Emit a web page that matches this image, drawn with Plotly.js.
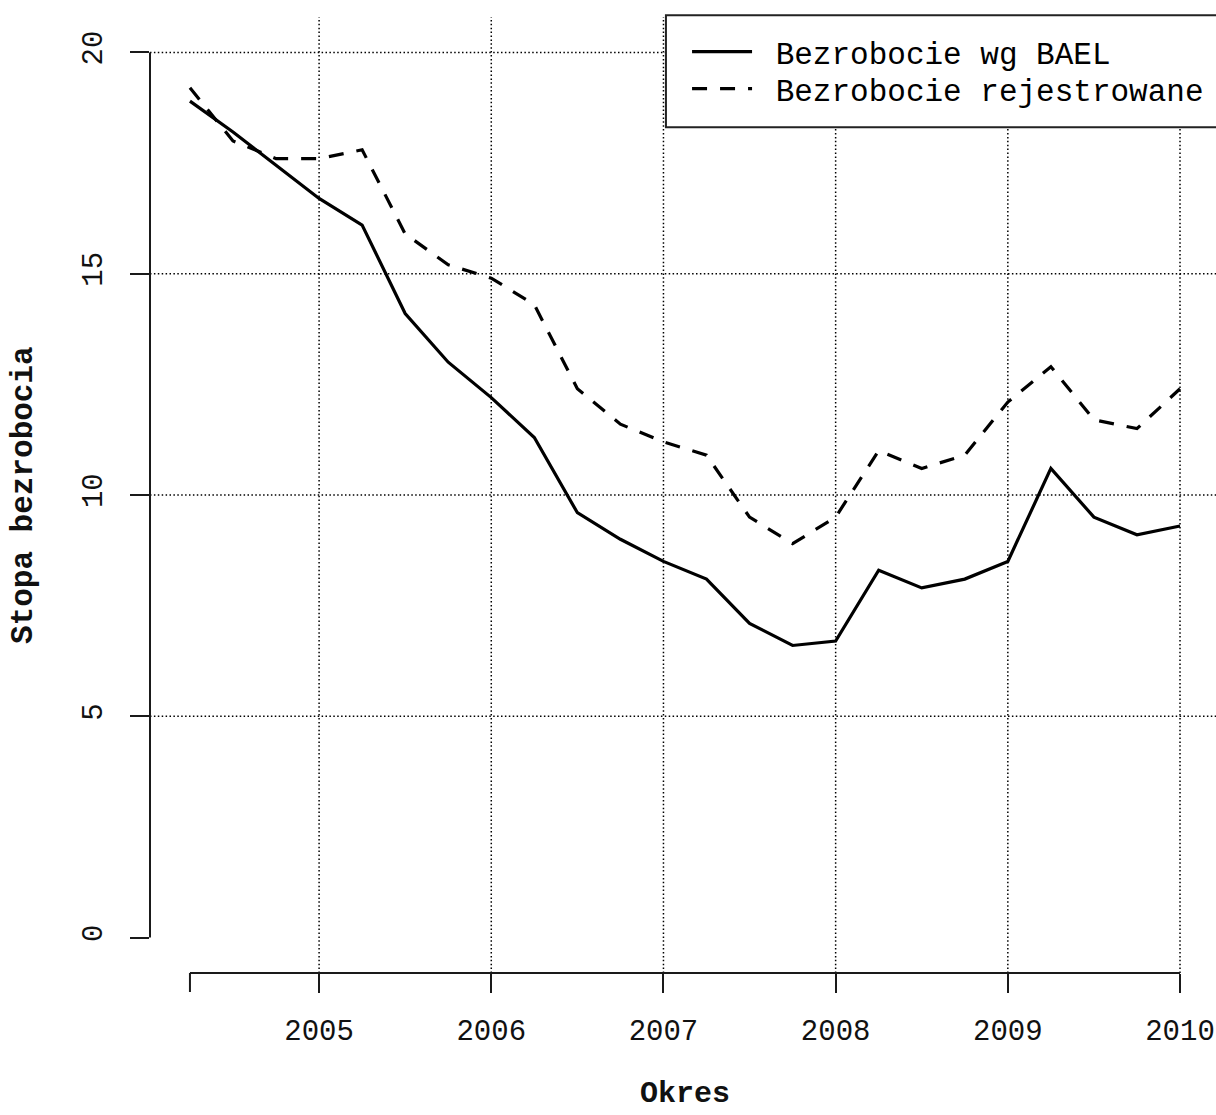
<!DOCTYPE html>
<html>
<head>
<meta charset="utf-8">
<script src="https://cdn.plot.ly/plotly-3.0.1.min.js"></script>
<style>
  html, body { margin: 0; padding: 0; background: #fff; }
  #chart { width: 1216px; height: 1115px; }
</style>
</head>
<body>
<div id="chart"></div>
<script>
// Quarterly observations, Q2 2004 – Q1 2010 (decimal year)
const quarters = [
  2004.25, 2004.50, 2004.75,
  2005.00, 2005.25, 2005.50, 2005.75,
  2006.00, 2006.25, 2006.50, 2006.75,
  2007.00, 2007.25, 2007.50, 2007.75,
  2008.00, 2008.25, 2008.50, 2008.75,
  2009.00, 2009.25, 2009.50, 2009.75,
  2010.00
];

// Unemployment rate by the labour force survey (BAEL), %
const baelRate = [
  18.9, 18.2, 17.45,
  16.7, 16.1, 14.1, 13.0,
  12.2, 11.3, 9.6, 9.0,
  8.5, 8.1, 7.1, 6.6,
  6.7, 8.3, 7.9, 8.1,
  8.5, 10.6, 9.5, 9.1,
  9.3
];

// Registered unemployment rate, %
const registeredRate = [
  19.2, 18.0, 17.6,
  17.6, 17.8, 15.9, 15.2,
  14.9, 14.3, 12.4, 11.6,
  11.2, 10.9, 9.5, 8.9,
  9.5, 11.0, 10.6, 10.9,
  12.1, 12.9, 11.7, 11.5,
  12.4
];

const seriesNames = ['Bezrobocie wg BAEL', 'Bezrobocie rejestrowane'];
const xTitle = 'Okres';
const yTitle = 'Stopa bezrobocia';

const yearTicks = [2005, 2006, 2007, 2008, 2009, 2010];
const yearLabels = ['2005', '2006', '2007', '2008', '2009', '2010'];
const rateTicks = [0, 5, 10, 15, 20];
const rateLabels = ['0', '5', '10', '15', '20'];
const rateGrid = [5, 10, 15, 20];

const mono = '"Courier New", "Liberation Mono", monospace';
const ink = '#1a1a1a';
const nbsp = '\u00A0';

const traces = [
  {
    x: quarters, y: baelRate, name: nbsp + seriesNames[0], legend: 'legend',
    type: 'scatter', mode: 'lines',
    line: { color: '#000', width: 3.2 }
  },
  {
    x: quarters, y: registeredRate, name: nbsp + seriesNames[1], legend: 'legend2',
    type: 'scatter', mode: 'lines',
    line: { color: '#000', width: 3.2, dash: '15px,13px' }
  }
];

// Dotted reference grid
const grid = { color: '#000', width: 1.5, dash: '1.5px,2.4px' };
const shapes = [];
yearTicks.forEach(v => shapes.push({
  type: 'line', layer: 'below', xref: 'x', yref: 'paper',
  x0: v, x1: v, y0: 0, y1: 1, line: grid
}));
rateGrid.forEach(v => shapes.push({
  type: 'line', layer: 'below', xref: 'paper', yref: 'y',
  x0: 0, x1: 1, y0: v, y1: v, line: grid
}));

// Axis lines spanning only the first to last tick
const axisLine = { color: ink, width: 2 };
const xFirst = quarters[0], xLast = quarters[quarters.length - 1];
shapes.push({
  type: 'line', xref: 'x', yref: 'paper',
  x0: xFirst, x1: xLast, y0: 0, y1: 0, line: axisLine
});
// tick at the start of the series
shapes.push({
  type: 'line', xref: 'x', yref: 'paper', ysizemode: 'pixel', yanchor: 0,
  x0: xFirst, x1: xFirst, y0: 0, y1: -19, line: axisLine
});
shapes.push({
  type: 'line', xref: 'paper', yref: 'y',
  x0: 0, x1: 0, y0: rateTicks[0], y1: rateTicks[rateTicks.length - 1], line: axisLine
});

// Legend frame
shapes.push({
  type: 'rect', xref: 'paper', yref: 'paper',
  x0: 0.484, x1: 1.05, y0: 0.8846, y1: 1.0017,
  line: { color: '#222', width: 2 }, fillcolor: '#fff', layer: 'above'
});

const legendBase = {
  x: 0.5038, xanchor: 'left', yanchor: 'middle',
  bgcolor: 'rgba(0,0,0,0)', borderwidth: 0,
  font: { family: mono, size: 31, color: '#000' },
  itemwidth: 60
};

const titleFont = { family: mono, size: 30, weight: 'bold', color: '#111' };

const layout = {
  width: 1216, height: 1115,
  margin: { l: 150, r: 0, t: 17, b: 142, pad: 0 },
  paper_bgcolor: '#fff', plot_bgcolor: '#fff',
  showlegend: true,
  legend: Object.assign({}, legendBase, { y: 0.9634 }),
  legend2: Object.assign({}, legendBase, { y: 0.9247 }),
  xaxis: {
    range: [2004.018, 2010.209],
    tickmode: 'array', tickvals: yearTicks, ticktext: yearLabels,
    ticks: 'outside', ticklen: 19, tickwidth: 2, tickcolor: ink,
    ticklabelstandoff: 12,
    tickfont: { family: mono, size: 29, color: '#111' },
    showgrid: false, zeroline: false, showline: false
  },
  yaxis: {
    range: [-0.8, 20.8],
    tickmode: 'array', tickvals: rateTicks, ticktext: rateLabels,
    ticks: 'outside', ticklen: 19, tickwidth: 2, tickcolor: ink,
    tickangle: -90, ticklabelstandoff: 16,
    tickfont: { family: mono, size: 29, color: '#111' },
    showgrid: false, zeroline: false, showline: false
  },
  // Axis titles placed in the outer margins
  annotations: [
    {
      text: xTitle, xref: 'paper', yref: 'paper', x: 0.5, y: 0,
      xanchor: 'center', yanchor: 'bottom', xshift: 2, yshift: -140,
      showarrow: false, font: titleFont
    },
    {
      text: yTitle, xref: 'paper', yref: 'paper', x: 0, y: 0.5,
      xanchor: 'center', yanchor: 'middle', xshift: -127, textangle: -90,
      showarrow: false, font: Object.assign({}, titleFont, { size: 31 })
    }
  ],
  shapes: shapes
};

Plotly.newPlot('chart', traces, layout, { displayModeBar: false, staticPlot: true });
</script>
</body>
</html>
